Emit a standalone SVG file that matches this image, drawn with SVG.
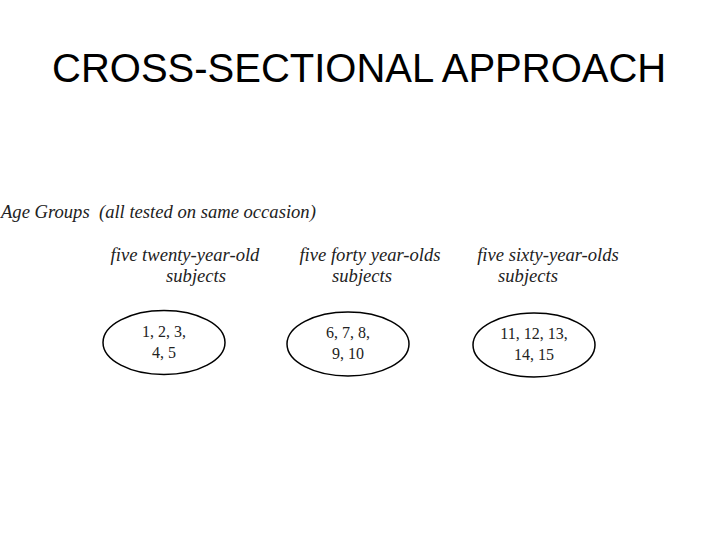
<svg xmlns="http://www.w3.org/2000/svg" width="720" height="540" viewBox="0 0 720 540">
<style>
.title{font-family:"Liberation Sans",Arial,sans-serif;font-size:40px;fill:#000}
.it{font-family:"Liberation Serif","Times New Roman",serif;font-style:italic;font-size:18.6px;fill:#222}
.num{font-family:"Liberation Serif","Times New Roman",serif;font-size:16px;fill:#222}
.ell{fill:#fff;stroke:#000;stroke-width:1.5}
</style>
<rect width="720" height="540" fill="#fff"/>
<text class="title" x="52" y="82">CROSS-SECTIONAL APPROACH</text>
<text class="it" x="1" y="218" xml:space="preserve">Age Groups  (all tested on same occasion)</text>
<g id="group20">
<text class="it" text-anchor="middle" x="185" y="261">five twenty-year-old</text>
<text class="it" text-anchor="middle" x="196" y="282">subjects</text>
<ellipse class="ell" cx="164" cy="342.5" rx="61" ry="32"/>
<text class="num" text-anchor="middle" x="164" y="337">1, 2, 3,</text>
<text class="num" text-anchor="middle" x="164" y="358">4, 5</text>
</g>
<g id="group40">
<text class="it" text-anchor="middle" x="370" y="261">five forty year-olds</text>
<text class="it" text-anchor="middle" x="362" y="282">subjects</text>
<ellipse class="ell" cx="348" cy="344" rx="61" ry="32"/>
<text class="num" text-anchor="middle" x="348" y="338">6, 7, 8,</text>
<text class="num" text-anchor="middle" x="348" y="359">9, 10</text>
</g>
<g id="group60">
<text class="it" text-anchor="middle" x="548" y="261">five sixty-year-olds</text>
<text class="it" text-anchor="middle" x="528" y="282">subjects</text>
<ellipse class="ell" cx="534" cy="345" rx="61" ry="32"/>
<text class="num" text-anchor="middle" x="534" y="339">11, 12, 13,</text>
<text class="num" text-anchor="middle" x="534" y="360">14, 15</text>
</g>
<g id="connectors"></g>
</svg>
